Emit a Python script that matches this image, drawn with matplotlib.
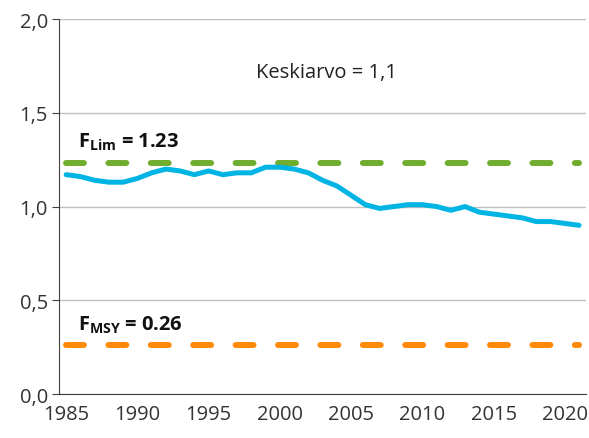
import matplotlib.pyplot as plt
import numpy as np

plt.rcParams['font.family'] = ['Open Sans', 'DejaVu Sans']
plt.rcParams['mathtext.fontset'] = 'custom'
plt.rcParams['mathtext.rm'] = 'Open Sans'
plt.rcParams['mathtext.bf'] = 'Open Sans:bold'

# Data
years = list(range(1985, 2022))
f_values = [1.17, 1.16, 1.14, 1.13, 1.13, 1.15, 1.18, 1.20, 1.19, 1.17,
            1.19, 1.17, 1.18, 1.18, 1.21, 1.21, 1.20, 1.18, 1.14, 1.11,
            1.06, 1.01, 0.99, 1.00, 1.01, 1.01, 1.00, 0.98, 1.00, 0.97,
            0.96, 0.95, 0.94, 0.92, 0.92, 0.91, 0.90]
f_lim = 1.23
f_msy = 0.26
y_ticks = [0.0, 0.5, 1.0, 1.5, 2.0]
x_ticks = [1985, 1990, 1995, 2000, 2005, 2010, 2015, 2020]

fig = plt.figure(figsize=(5.89, 4.39), dpi=100)
ax = fig.add_axes([0.1002, 0.1002, 0.895, 0.854])

x = np.array(years)
ax.plot(x, [f_lim] * len(x), color='#70AD2F', lw=4.3, dashes=(3.0, 4.1),
        dash_capstyle='round', zorder=3)
ax.plot(x, [f_msy] * len(x), color='#FF8A0A', lw=4.3, dashes=(3.0, 4.1),
        dash_capstyle='round', zorder=3)
ax.plot(x, f_values, color='#00B4E4', lw=3.6, solid_capstyle='round', zorder=4)

ax.set_xlim(1984.5, 2021.5)
ax.set_ylim(0, 2.0)
ax.set_yticks(y_ticks)
ax.set_yticklabels([f"{v:.1f}".replace('.', ',') for v in y_ticks])
ax.set_xticks(x_ticks)
ax.grid(axis='y', color='#BFBFBF', lw=1)
ax.set_axisbelow(True)
for s in ['top', 'right']:
    ax.spines[s].set_visible(False)
ax.spines['left'].set_color('#404040')
ax.spines['bottom'].set_color('#404040')
ax.tick_params(axis='x', length=0, labelsize=14.5, colors='#333333', pad=7)
ax.tick_params(axis='y', length=5, labelsize=14.5, colors='#333333', pad=3)
ax.tick_params(axis='y', color='#404040')

ax.text(2003.3, 1.72, 'Keskiarvo = 1,1', fontsize=14.5, ha='center', va='center',
        color='#222222')
ax.text(1985.8, 1.35, r'$\mathbf{F_{Lim}}$ = 1.23', fontsize=14.5,
        fontweight='bold', ha='left', va='center', color='#111111')
ax.text(1985.8, 0.37, r'$\mathbf{F_{MSY}}$ = 0.26', fontsize=14.5,
        fontweight='bold', ha='left', va='center', color='#111111')

fig.savefig('out.png', dpi=100)
